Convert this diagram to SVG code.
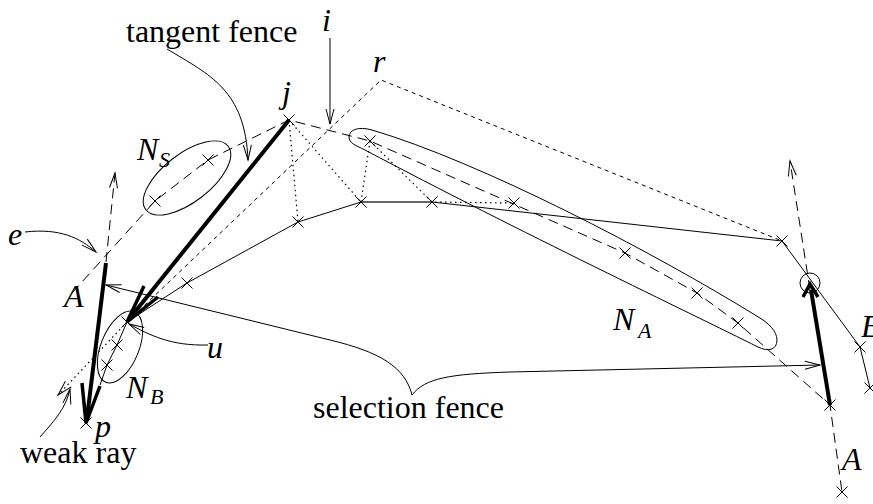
<svg xmlns="http://www.w3.org/2000/svg" width="873" height="504" viewBox="0 0 873 504" font-family="'Liberation Serif', 'Times New Roman', 'DejaVu Serif', serif">
<defs>
<marker id="ah" markerUnits="userSpaceOnUse" markerWidth="18" markerHeight="12" viewBox="-16 -6 18 12" refX="0" refY="0" orient="auto" overflow="visible">
<path d="M-15,-4 L0,0 L-15,4" fill="none" stroke="#000" stroke-width="1" stroke-dasharray="none"/>
</marker>
<path id="x" d="M-5.5,-5.5L5.5,5.5M-5.5,5.5L5.5,-5.5" stroke="#000" stroke-width="1" fill="none"/>
</defs>
<style>
.l{fill:none;stroke:#000;stroke-width:1}
.d{stroke-dasharray:10 6}
.sd{stroke-dasharray:4 4}
.dt{stroke-dasharray:1.5 3.5;stroke-width:1.2}
.k{fill:none;stroke:#000;stroke-width:4;stroke-linecap:butt}
.kh{fill:none;stroke:#000;stroke-width:3.5;stroke-linejoin:miter}
.a{marker-end:url(#ah)}
text{font-family:"Liberation Serif","Times New Roman","DejaVu Serif",serif;font-size:32px;fill:#000}
.m{font-style:italic}
.s{font-size:22px;font-style:italic}
</style>
<rect width="873" height="504" fill="#fff"/>
<g id="connectors">
<path class="l d" d="M72,293 L155,201 L208,160 L289,120 L370,141 L625,253 L697,293 L738,323 L830,405 L842,492"/>
<path class="l sd" d="M127,322 L381,80 L782,241"/>
<path class="l dt" d="M127,322 L289,120"/>
<path class="l dt" d="M289,120 L298,222 M289,120 L361,202 M370,141 L361,202 M370,141 L432,202 L514,203"/>
<path class="l dt a" d="M127,322 L58,395"/>
<path class="l" d="M127,322 L187,283 L298,222 L361,202"/>
<path fill="none" stroke="#666" stroke-width="2" d="M361,202 L432,202"/>
<path class="l" d="M432,202 L782,241 L860,347 L870,388"/>
<path class="l" d="M127,322 L117,345 L107,365 L100,385"/>
<path class="l d a" d="M106,262 L115,173"/>
<path class="l d a" d="M810,290 L790,161"/>
<path class="k" d="M289,120 L130,318"/>
<path class="kh" d="M144,286 L127,322 L158,297"/>
<path class="k" d="M106,263 L87,418"/>
<path class="kh" d="M82,383 L86,423 L100,386"/>
<path class="k" d="M830,405 L811,290"/>
<path class="kh" stroke-width="2.5" d="M803,297 L810,284 L818,297"/>
<path class="l a" d="M167,49 C210,75 245,90 248,160"/>
<path class="l a" d="M330,38 L330,124"/>
<path class="l a" d="M25,232 C60,228 80,238 96,252"/>
<path class="l a" d="M208,345 C170,346 150,335 129,324"/>
<path class="l a" d="M40,437 C55,420 66,408 70,389"/>
<path class="l a" d="M412,395 C405,367 380,352 330,340 L106,285"/>
<path class="l a" d="M412,395 C425,378 450,374 510,372 L820,365"/>
</g>
<g id="NS">
<ellipse class="l" cx="187" cy="178" rx="52" ry="24" transform="rotate(-37.7 187 178)"/>
<use href="#x" x="155" y="201"/><use href="#x" x="208" y="160"/>
<text class="m" x="137" y="160">N</text><text class="s" x="159" y="167">S</text>
</g>
<g id="NA">
<path class="l" d="M372,130 C480,162 650,250 760,318 C768,323 777,331 777,340 C777,350 768,352 758,347 C690,313 520,232 365,150 C355,145 349,143 349,137 C349,130 358,126 372,130 Z"/>
<use href="#x" x="370" y="141"/><use href="#x" x="625" y="253"/><use href="#x" x="697" y="293"/><use href="#x" x="738" y="323"/>
<text class="m" x="613" y="330">N</text><text class="s" x="638" y="338">A</text>
</g>
<g id="NB">
<ellipse class="l" cx="120" cy="347" rx="38" ry="19" transform="rotate(-68 120 347)"/>
<use href="#x" x="117" y="345"/><use href="#x" x="107" y="365"/>
<text class="m" x="126" y="398">N</text><text class="s" x="150" y="404">B</text>
</g>
<g id="j"><use href="#x" x="289" y="120"/><text class="m" x="282" y="103">j</text></g>
<g id="r"><text class="m" x="373" y="72">r</text></g>
<g id="i"><text class="m" x="322" y="31">i</text></g>
<g id="u"><use href="#x" x="127" y="322"/><text class="m" x="207" y="358">u</text></g>
<g id="p"><use href="#x" x="86" y="423"/><text class="m" x="95" y="437">p</text></g>
<g id="e"><text class="m" x="8" y="245">e</text></g>
<g id="A1"><text class="m" x="64" y="307">A</text></g>
<g id="poly">
<use href="#x" x="187" y="283"/><use href="#x" x="298" y="222"/><use href="#x" x="361" y="202"/><use href="#x" x="432" y="202"/><use href="#x" x="514" y="203"/><use href="#x" x="782" y="241"/><use href="#x" x="860" y="347"/><use href="#x" x="870" y="388"/>
</g>
<g id="right">
<circle class="l" cx="810" cy="283" r="10"/>
<use href="#x" x="830" y="405"/><use href="#x" x="842" y="492"/>
<text class="m" x="842" y="470">A</text>
<text class="m" x="861" y="337">B</text>
</g>
<g id="labels">
<text x="126" y="42">tangent fence</text>
<text x="313" y="418">selection fence</text>
<text x="20" y="463">weak ray</text>
</g>
</svg>
